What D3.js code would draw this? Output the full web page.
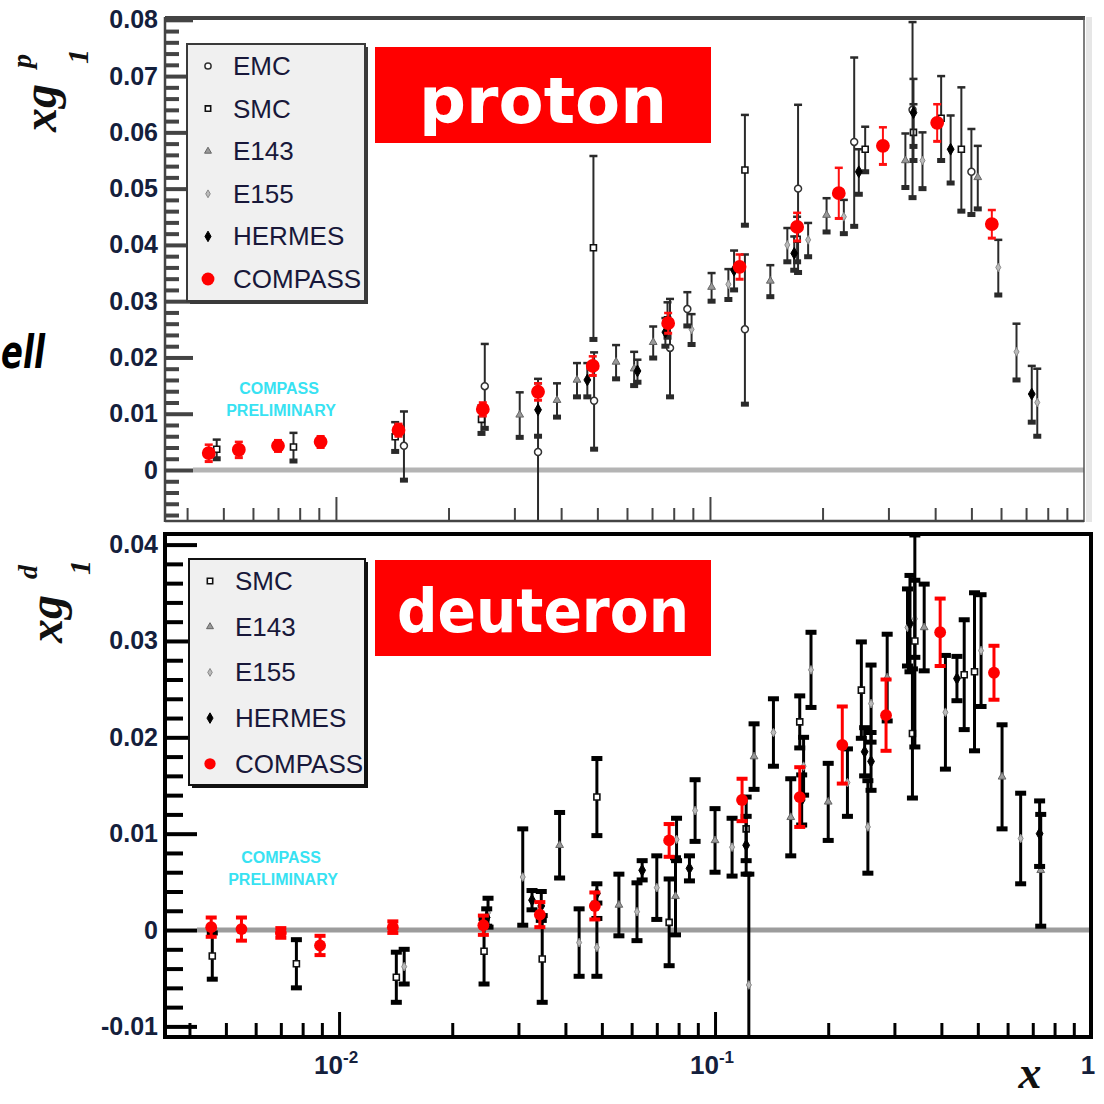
<!DOCTYPE html>
<html><head><meta charset="utf-8">
<script src="https://cdn.jsdelivr.net/npm/d3@7"></script>
<style>
html,body{margin:0;padding:0;background:#fff;}
svg{display:block;}
</style></head><body>
<svg id="chart" width="1104" height="1104"></svg>
<script>
// ---- data: each point is [x, x*g1, error] ----
const protonCOMPASS = [
  [0.00457,0.0030,0.0015],[0.0055,0.0036,0.0014],[0.0070,0.0043,0.0010],[0.0091,0.0050,0.0010],
  [0.0147,0.0071,0.0011],[0.0247,0.0108,0.0012],[0.0347,0.0139,0.0015],[0.0486,0.0185,0.0017],
  [0.0773,0.0261,0.0018],[0.120,0.0361,0.0022],[0.171,0.0432,0.0025],[0.221,0.0492,0.0045],
  [0.290,0.0576,0.0033],[0.405,0.0617,0.0033],[0.567,0.0437,0.0025]
];
const protonEMC = [
  [0.0152,0.0043,0.0061],[0.025,0.0149,0.0075],[0.0347,0.0032,0.0130],[0.049,0.0123,0.0086],
  [0.0782,0.0217,0.0087],[0.087,0.0286,0.0030],[0.124,0.0250,0.0133],[0.172,0.0500,0.0149],
  [0.243,0.0583,0.0150],[0.348,0.0640,0.0156],[0.50,0.0530,0.0076]
];
const protonSMC = [
  [0.0048,0.0037,0.0017],[0.0077,0.0041,0.0025],[0.0144,0.0059,0.0026],[0.0245,0.0090,0.0025],
  [0.0488,0.0395,0.0163],[0.077,0.0267,0.0031],[0.124,0.0533,0.0098],[0.171,0.0410,0.0040],
  [0.26,0.0570,0.0040],[0.35,0.0600,0.0050],[0.415,0.0625,0.0075],[0.47,0.0570,0.0110]
];
const protonE143 = [
  [0.031,0.0098,0.0040],[0.039,0.0124,0.0030],[0.0441,0.0160,0.0030],[0.0561,0.0192,0.0030],
  [0.0627,0.0180,0.0030],[0.0705,0.0227,0.0028],[0.101,0.0325,0.0025],[0.145,0.0336,0.0028],
  [0.205,0.0453,0.0030],[0.333,0.0550,0.0048],[0.52,0.0520,0.0056]
];
const protonE155 = [
  [0.0893,0.0250,0.0027],[0.112,0.0330,0.0027],[0.161,0.0400,0.0030],[0.183,0.0409,0.0030],
  [0.228,0.0450,0.0030],[0.37,0.0550,0.0050],[0.59,0.0360,0.0049],[0.66,0.0210,0.0050],
  [0.75,0.0120,0.0060]
];
const protonHERMES = [
  [0.0347,0.0107,0.0047],[0.047,0.0160,0.0030],[0.064,0.0176,0.0020],[0.076,0.0245,0.0025],
  [0.116,0.0355,0.0035],[0.168,0.0385,0.0030],[0.25,0.0530,0.0040],[0.35,0.0635,0.0060],
  [0.44,0.0570,0.0060],[0.725,0.0135,0.0050]
];

const deuteronCOMPASS = [
  [0.00457,0.0003,0.0010],[0.0055,0.0001,0.0012],[0.0070,-0.0003,0.0005],[0.0089,-0.0016,0.0010],
  [0.0139,0.0003,0.0006],[0.0242,0.0005,0.0010],[0.0342,0.0016,0.0013],[0.0479,0.0025,0.0014],
  [0.0755,0.0093,0.0017],[0.118,0.0135,0.0022],[0.168,0.0138,0.0031],[0.218,0.0192,0.0040],
  [0.285,0.0223,0.0037],[0.397,0.0309,0.0035],[0.552,0.0267,0.0028]
];
const deuteronSMC = [
  [0.0046,-0.0027,0.0024],[0.0077,-0.0035,0.0025],[0.0142,-0.0049,0.0026],[0.0243,-0.0022,0.0034],
  [0.0347,-0.0030,0.0045],[0.0485,0.0138,0.0040],[0.0755,0.0008,0.0045],[0.121,0.0105,0.0033],
  [0.168,0.0216,0.0027],[0.245,0.0249,0.0050],[0.335,0.0204,0.0067],[0.34,0.0300,0.0110],
  [0.46,0.0265,0.0057],[0.49,0.0268,0.0082]
];
const deuteronE143 = [
  [0.0386,0.0088,0.0034],[0.0555,0.0026,0.0032],[0.0785,0.0035,0.0040],[0.100,0.0093,0.0033],
  [0.127,0.0180,0.0034],[0.159,0.0117,0.0040],[0.20,0.0133,0.0040],[0.287,0.0262,0.0045],
  [0.36,0.0314,0.0045],[0.58,0.0159,0.0054],[0.735,0.0062,0.0058]
];
const deuteronE155 = [
  [0.0149,-0.0038,0.0018],[0.0249,0.0018,0.0015],[0.0308,0.0055,0.0050],[0.0435,-0.0013,0.0035],
  [0.0485,-0.0018,0.0030],[0.062,0.0019,0.0030],[0.0700,0.0044,0.0033],[0.079,0.0094,0.0022],
  [0.0885,0.0124,0.0032],[0.111,0.0086,0.0030],[0.123,-0.0057,0.0115],[0.143,0.0205,0.0035],
  [0.172,0.0170,0.0030],[0.180,0.0270,0.0039],[0.225,0.0153,0.0035],[0.255,0.0107,0.0048],
  [0.26,0.0235,0.0040],[0.325,0.0314,0.0040],[0.34,0.0323,0.0040],[0.41,0.0226,0.0059],
  [0.51,0.0290,0.0058],[0.65,0.0095,0.0047]
];
const deuteronHERMES = [
  [0.0247,0.0013,0.0009],[0.0326,0.0031,0.0010],[0.0345,0.0025,0.0015],[0.0485,0.0038,0.0010],
  [0.064,0.0062,0.0010],[0.0855,0.0064,0.0013],[0.121,0.0088,0.0030],[0.170,0.0135,0.0026],
  [0.25,0.0185,0.0025],[0.26,0.0175,0.0030],[0.33,0.0318,0.0050],[0.44,0.0261,0.0023],
  [0.73,0.0100,0.0034]
];

const legendProton = ["EMC","SMC","E143","E155","HERMES","COMPASS"];
const legendDeuteron = ["SMC","E143","E155","HERMES","COMPASS"];
const yTicksProton = [0,0.01,0.02,0.03,0.04,0.05,0.06,0.07,0.08];
const yLabelsProton = ["0","0.01","0.02","0.03","0.04","0.05","0.06","0.07","0.08"];
const yTicksDeuteron = [-0.01,0,0.01,0.02,0.03,0.04];
const yLabelsDeuteron = ["-0.01","0","0.01","0.02","0.03","0.04"];
const xTickValues = [0.01,0.1,1];
const xTickBases = ["10","10","1"];
const xTickExps = ["-2","-1",""];

// ---- drawing ----
const svg = d3.select("#chart");
const SANS = "'Liberation Sans', Arial, sans-serif";
const SERIF = "'Liberation Serif', 'Times New Roman', serif";
const labelColor = "#14203c";

const markerShape = {
  EMC:    {type: d3.symbolCircle,  size: 38, fill: "#fff",  stroke: "#333", sw: 1.5},
  SMC:    {type: d3.symbolSquare,  size: 36, fill: "#fff",  stroke: "#111", sw: 1.6},
  E143:   {type: d3.symbolTriangle,size: 26, fill: "#999",  stroke: "#666", sw: 1},
  E155:   {type: d3.symbolDiamond, size: 22, fill: "#bbb",  stroke: "#888", sw: 1},
  HERMES: {type: d3.symbolDiamond, size: 40, fill: "#000",  stroke: "#000", sw: 1},
  COMPASS:{type: d3.symbolCircle,  size: 150,fill: "#ff0000", stroke: "none", sw: 0}
};

function minorTicks(domain) {
  const out = [];
  for (let e = -4; e <= 0; e++) {
    for (let k = 2; k <= 9; k++) {
      const v = k * Math.pow(10, e);
      if (v > domain[0] && v < domain[1]) out.push(v);
    }
  }
  return out;
}
function yMinor(lo, hi, step, majors) {
  const out = [];
  for (let i = Math.ceil(lo / step - 1e-9); i * step <= hi + 1e-12; i++) {
    const v = +(i * step).toFixed(4);
    if (!majors.some(m => Math.abs(m - v) < 1e-9)) out.push(v);
  }
  return out;
}

function drawPanel(cfg) {
  const x = d3.scaleLog().domain(cfg.xDomain).range(cfg.xRange);
  const y = d3.scaleLinear().domain(cfg.yDomain).range(cfg.yRange);
  const [x0, x1] = cfg.xRange;
  const [yb, yt] = cfg.yRange;
  const g = svg.append("g");

  svg.append("clipPath").attr("id", "clip-" + cfg.id)
    .append("rect").attr("x", x0).attr("y", yt).attr("width", x1 - x0).attr("height", yb - yt);

  // zero line
  g.append("line").attr("x1", x0 + cfg.zeroInset).attr("x2", x1)
    .attr("y1", y(0)).attr("y2", y(0))
    .attr("stroke", cfg.zeroColor).attr("stroke-width", 5);

  // y axis ticks
  const yMin = yMinor(cfg.yDomain[0], cfg.yDomain[1], 0.002, cfg.yTicks);
  g.append("g").attr("transform", `translate(${x0},0)`)
    .call(d3.axisLeft(y).tickValues(yMin).tickSizeInner(-cfg.yMinorLen).tickSizeOuter(0).tickFormat(""))
    .call(s => s.select(".domain").remove())
    .call(s => s.selectAll("line").attr("stroke", cfg.tickColor).attr("stroke-width", cfg.yTickWidth));
  g.append("g").attr("transform", `translate(${x0},0)`)
    .call(d3.axisLeft(y).tickValues(cfg.yTicks).tickSizeInner(-cfg.yMajorLen).tickSizeOuter(0).tickPadding(7)
      .tickFormat(d => cfg.yLabels[cfg.yTicks.indexOf(d)]))
    .call(s => s.select(".domain").remove())
    .call(s => s.selectAll("line").attr("stroke", cfg.tickColor).attr("stroke-width", cfg.yTickWidth))
    .call(s => s.selectAll("text").attr("font-family", SANS).attr("font-weight", "bold")
      .attr("font-size", 25).attr("fill", labelColor));

  // x axis ticks
  g.append("g").attr("transform", `translate(0,${yb})`)
    .call(d3.axisBottom(x).tickValues(minorTicks(cfg.xDomain)).tickSizeInner(-14).tickSizeOuter(0).tickFormat(""))
    .call(s => s.select(".domain").remove())
    .call(s => s.selectAll("line").attr("stroke", cfg.tickColor).attr("stroke-width", cfg.xTickWidth));
  g.append("g").attr("transform", `translate(0,${yb})`)
    .call(d3.axisBottom(x).tickValues(xTickValues.filter(v => v < 1)).tickSizeInner(-25).tickSizeOuter(0).tickFormat(""))
    .call(s => s.select(".domain").remove())
    .call(s => s.selectAll("line").attr("stroke", cfg.tickColor).attr("stroke-width", cfg.xTickWidth));

  // data
  const plot = g.append("g").attr("clip-path", `url(#clip-${cfg.id})`);
  cfg.series.forEach(s => {
    const isC = s.name === "COMPASS";
    const es = isC ? cfg.compassErr : cfg.err;
    const sg = plot.append("g");
    const pts = sg.selectAll("g").data(s.data).join("g");
    pts.append("line")
      .attr("x1", d => x(d[0])).attr("x2", d => x(d[0]))
      .attr("y1", d => y(d[1] - d[2])).attr("y2", d => y(d[1] + d[2]))
      .attr("stroke", es.color).attr("stroke-width", es.width);
    pts.append("rect")
      .attr("x", d => x(d[0]) - es.capW / 2).attr("width", es.capW)
      .attr("y", d => y(d[1] + d[2]) - es.capTop / 2).attr("height", es.capTop)
      .attr("fill", es.color);
    pts.append("rect")
      .attr("x", d => x(d[0]) - es.capW / 2).attr("width", es.capW)
      .attr("y", d => y(d[1] - d[2]) - es.capBot / 2).attr("height", es.capBot)
      .attr("fill", es.color);
    const m = markerShape[s.name];
    pts.append("path")
      .attr("transform", d => `translate(${x(d[0])},${y(d[1])})`)
      .attr("d", d3.symbol().type(m.type).size(isC ? cfg.compassSize : m.size))
      .attr("fill", m.fill).attr("stroke", m.stroke).attr("stroke-width", m.sw);
  });

  // frame
  cfg.frame(g, x0, x1, yt, yb);

  // preliminary stamp
  const st = g.append("g").attr("font-family", SANS).attr("font-weight", "bold")
    .attr("font-size", 16).attr("fill", "#38e2f2").attr("text-anchor", "middle");
  st.append("text").attr("x", cfg.stamp[0]).attr("y", cfg.stamp[1]).text("COMPASS");
  st.append("text").attr("x", cfg.stamp[0] + 2).attr("y", cfg.stamp[1] + 22).text("PRELIMINARY");

  // legend
  const lg = g.append("g");
  const L = cfg.legend;
  lg.append("rect").attr("x", L.x + 3).attr("y", L.y + 3).attr("width", L.w).attr("height", L.h).attr("fill", cfg.legendShadow);
  lg.append("rect").attr("x", L.x).attr("y", L.y).attr("width", L.w).attr("height", L.h)
    .attr("fill", "#f0f0f0").attr("stroke", cfg.legendShadow).attr("stroke-width", 2);
  L.names.forEach((n, i) => {
    const cy = L.y + L.first + i * L.step;
    const m = markerShape[n];
    const size = n === "COMPASS" ? L.compassSize : m.size * 0.8;
    lg.append("path").attr("transform", `translate(${L.x + 21},${cy})`)
      .attr("d", d3.symbol().type(m.type).size(size))
      .attr("fill", m.fill).attr("stroke", m.stroke).attr("stroke-width", m.sw);
    lg.append("text").attr("x", L.x + 46).attr("y", cy + 9)
      .attr("font-family", SANS).attr("font-size", 26).attr("fill", "#18183a").text(n);
  });

  // red label
  const lb = g.append("g");
  lb.append("rect").attr("x", 375).attr("y", cfg.label.y).attr("width", 336).attr("height", 96).attr("fill", "#ff0000");
  lb.append("text").attr("x", 543).attr("y", cfg.label.y + cfg.label.base)
    .attr("text-anchor", "middle").attr("font-family", "'DejaVu Sans', Verdana, sans-serif")
    .attr("font-weight", "bold").attr("font-size", cfg.label.size).attr("fill", "#fff")
    .attr("textLength", cfg.label.len).attr("lengthAdjust", "spacingAndGlyphs")
    .text(cfg.label.text);

  // y title
  const yt2 = g.append("g").attr("transform", `translate(${cfg.ytitle[0]},${cfg.ytitle[1]}) rotate(-90)`)
    .attr("font-family", SERIF).attr("font-style", "italic").attr("font-weight", "bold").attr("fill", "#111");
  yt2.append("text").attr("x", 0).attr("y", 0).attr("font-size", 48).text("xg");
  yt2.append("text").attr("x", 64).attr("y", cfg.ytitle[2]).attr("font-size", 28).text(cfg.ytitle[3]);
  yt2.append("text").attr("x", 68).attr("y", cfg.ytitle[4]).attr("font-size", 30).text("1");

  return {x, y};
}

const topFrame = (g, x0, x1, yt, yb) => {
  g.append("rect").attr("x", x1 + 2).attr("y", yt).attr("width", 6).attr("height", yb - yt).attr("fill", "#e6e6e6");
  g.append("line").attr("x1", x0).attr("x2", x1 + 1).attr("y1", yt + 1).attr("y2", yt + 1).attr("stroke", "#444").attr("stroke-width", 4);
  g.append("line").attr("x1", x0).attr("x2", x0).attr("y1", yt).attr("y2", yb).attr("stroke", "#444").attr("stroke-width", 2.5);
  g.append("line").attr("x1", x1).attr("x2", x1).attr("y1", yt).attr("y2", yb).attr("stroke", "#555").attr("stroke-width", 1.5);
  g.append("line").attr("x1", x0).attr("x2", x1).attr("y1", yb - 1).attr("y2", yb - 1).attr("stroke", "#444").attr("stroke-width", 2.5);
};
const bottomFrame = (g, x0, x1, yt, yb) => {
  g.append("rect").attr("x", x0).attr("y", yt).attr("width", x1 - x0).attr("height", yb - yt)
    .attr("fill", "none").attr("stroke", "#000").attr("stroke-width", 4);
};

drawPanel({
  id: "p",
  xDomain: [Math.pow(10, -2.457), 1], xRange: [165, 1084],
  yDomain: [-0.00924, 0.0805], yRange: [522, 17],
  yTicks: yTicksProton, yLabels: yLabelsProton,
  yMajorLen: 28, yMinorLen: 14, yTickWidth: 4, xTickWidth: 2, tickColor: "#444",
  zeroInset: 28, zeroColor: "#b4b4b4",
  err: {color: "#2a2a2a", width: 2, capW: 8, capTop: 2.5, capBot: 5},
  compassErr: {color: "#ff1010", width: 2, capW: 8, capTop: 2.5, capBot: 3},
  compassSize: 150,
  series: [
    {name: "E155", data: protonE155}, {name: "E143", data: protonE143},
    {name: "EMC", data: protonEMC}, {name: "SMC", data: protonSMC},
    {name: "HERMES", data: protonHERMES}, {name: "COMPASS", data: protonCOMPASS}
  ],
  frame: topFrame,
  stamp: [279, 394],
  legend: {x: 187, y: 44, w: 178, h: 257, first: 22, step: 42.6, names: legendProton, compassSize: 130},
  legendShadow: "#3a3a3a",
  label: {y: 47, base: 76, size: 64, len: 248, text: "proton"},
  ytitle: [56, 132, -25, "p", 32]
});

const bot = drawPanel({
  id: "d",
  xDomain: [Math.pow(10, -2.463), 1], xRange: [165, 1091],
  yDomain: [-0.0111, 0.0411], yRange: [1037, 534],
  yTicks: yTicksDeuteron, yLabels: yLabelsDeuteron,
  yMajorLen: 32, yMinorLen: 18, yTickWidth: 4, xTickWidth: 3, tickColor: "#000",
  zeroInset: 32, zeroColor: "#9c9c9c",
  err: {color: "#000", width: 3, capW: 11, capTop: 5, capBot: 5},
  compassErr: {color: "#ff0000", width: 3, capW: 11, capTop: 4, capBot: 4},
  compassSize: 110,
  series: [
    {name: "E155", data: deuteronE155}, {name: "E143", data: deuteronE143},
    {name: "SMC", data: deuteronSMC}, {name: "HERMES", data: deuteronHERMES},
    {name: "COMPASS", data: deuteronCOMPASS}
  ],
  frame: bottomFrame,
  stamp: [281, 863],
  legend: {x: 189, y: 559, w: 176, h: 226, first: 22, step: 45.7, names: legendDeuteron, compassSize: 100},
  legendShadow: "#111",
  label: {y: 560, base: 72, size: 60, len: 292, text: "deuteron"},
  ytitle: [62, 643, -25, "d", 28]
});

// x-axis labels under the lower panel
const xl = svg.append("g").attr("font-family", SANS).attr("font-weight", "bold").attr("fill", labelColor);
xTickValues.forEach((v, i) => {
  const t = xl.append("text").attr("x", bot.x(v) - 3).attr("y", 1074)
    .attr("text-anchor", "middle").attr("font-size", 26);
  t.append("tspan").text(xTickBases[i]);
  if (xTickExps[i]) t.append("tspan").attr("dy", -11).attr("font-size", 17).text(xTickExps[i]);
});

// x title
svg.append("text").attr("x", 1030).attr("y", 1088).attr("text-anchor", "middle")
  .attr("font-family", SERIF).attr("font-style", "italic").attr("font-weight", "bold")
  .attr("font-size", 46).attr("fill", "#111").text("x");

// fragment of slide text at the left edge
svg.append("text").attr("x", 1).attr("y", 368).attr("text-anchor", "start")
  .attr("font-family", "'DejaVu Sans', Verdana, sans-serif").attr("font-style", "italic")
  .attr("font-weight", "bold").attr("font-size", 46).attr("fill", "#000")
  .attr("textLength", 44).attr("lengthAdjust", "spacingAndGlyphs").text("ell");
</script>
</body></html>
